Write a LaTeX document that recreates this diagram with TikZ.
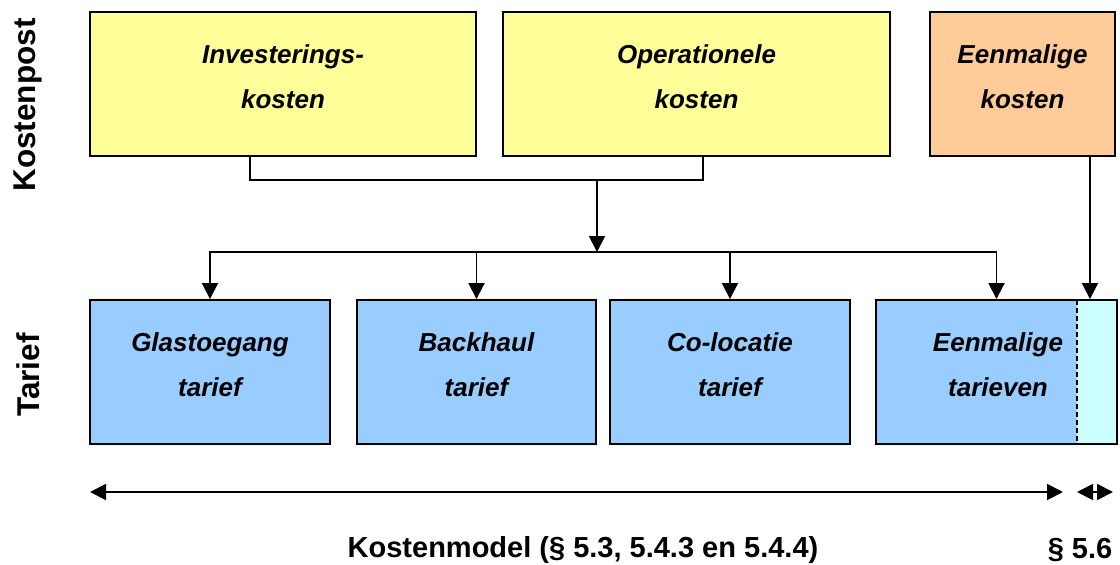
\documentclass[tikz,border=0pt]{standalone}
\usepackage{fontspec}
\setmainfont{Liberation Sans}
\usetikzlibrary{arrows.meta}
\definecolor{kyellow}{HTML}{FFFF99}
\definecolor{korange}{HTML}{FFCC99}
\definecolor{kblue}{HTML}{99CCFF}
\definecolor{kcyan}{HTML}{CCFFFF}
\tikzset{
  box/.style={draw=black, line width=1.9pt, inner sep=0pt, minimum height=144pt},
  boxtext/.style={align=center, yshift=7pt, font=\fontsize{26}{45}\selectfont\bfseries\itshape},
  conn/.style={line width=1.9pt},
  arr/.style={conn, -{Triangle[length=16pt,width=16pt]}},
  darr/.style={conn, {Triangle[length=16pt,width=16pt]}-{Triangle[length=16pt,width=16pt]}},
  sidelabel/.style={rotate=90, font=\fontsize{31.5}{36}\selectfont\bfseries},
  bottomlabel/.style={font=\fontsize{29}{34}\selectfont\bfseries}
}
\begin{document}
\begin{tikzpicture}[x=1pt,y=-1pt]
\useasboundingbox (0,0) rectangle (1120,565);
% top row
\node[box, fill=kyellow, minimum width=386pt, label={[boxtext]center:Investerings-\\kosten}] (I) at (283,84) {};
\node[box, fill=kyellow, minimum width=387pt, label={[boxtext]center:Operationele\\kosten}] (O) at (696.5,84) {};
\node[box, fill=korange, minimum width=185pt, label={[boxtext]center:Eenmalige\\kosten}] (E) at (1022.5,84) {};
% bottom row
\node[box, fill=kblue, minimum width=240pt, label={[boxtext]center:Glastoegang\\tarief}] (A) at (210,372) {};
\node[box, fill=kblue, minimum width=239pt, label={[boxtext]center:Backhaul\\tarief}] (B) at (476.5,372) {};
\node[box, fill=kblue, minimum width=240pt, label={[boxtext]center:Co-locatie\\tarief}] (C) at (730,372) {};
\node[box, fill=kblue, minimum width=241pt, label={[boxtext, xshift=1.5pt]center:Eenmalige\\tarieven},
  path picture={\fill[kcyan] ([xshift=-40pt]path picture bounding box.north east) rectangle (path picture bounding box.south east);
    \draw[line width=1.9pt, dash pattern=on 5pt off 3pt] ([xshift=-40pt]path picture bounding box.north east) -- ([xshift=-40pt]path picture bounding box.south east);}]
  (D) at (996.5,372) {};
% connectors
\coordinate (m) at (597,180);
\coordinate (j) at (597,252);
\draw[conn] ([xshift=-33pt]I.south) |- (m) -| ([xshift=6.5pt]O.south);
\draw[arr] (m) -- (j);
\draw[arr] (j) -| (A.north);
\draw[arr] (j) -| (B.north);
\draw[arr] (j) -| (C.north);
\draw[arr] (j) -| (D.north);
\draw[arr] ([xshift=67.5pt]E.south) -- ([xshift=93.5pt]D.north);
% side labels
\node[sidelabel] (kp) at (28,105) {Kostenpost};
\node[sidelabel] (ta) at (28,375) {Tarief};
% bottom arrows
\coordinate (b1) at (90,492);
\coordinate (b2) at (1063,492);
\coordinate (b3) at (1077,492);
\coordinate (b4) at (1113,492);
\draw[darr] (b1) -- (b2);
\draw[darr] (b3) -- (b4);
\node[bottomlabel] (km) at (583,550) {Kostenmodel (§ 5.3, 5.4.3 en 5.4.4)};
\node[bottomlabel] (p56) at (1080,550) {§ 5.6};
\end{tikzpicture}
\end{document}
